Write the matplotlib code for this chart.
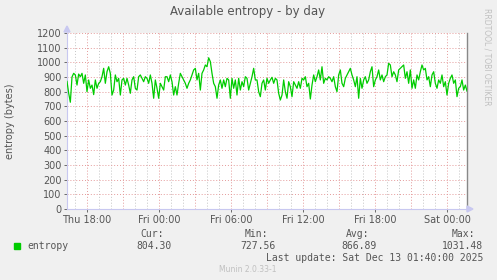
import matplotlib
matplotlib.use("Agg")
import matplotlib.pyplot as plt
import numpy as np

# ---- data (5-sample step ~8.33 min, Thu 16:20 -> Sat 01:40) ----
entropy_part1 = [870, 790, 728, 900, 925, 914, 845, 920, 902, 925, 857, 914, 800, 880, 823,
                 845, 780, 880, 823, 857, 868, 902, 959, 857, 936, 970, 925, 777, 811, 914,
                 868, 891, 777, 880, 891, 845, 891, 845, 789, 880, 902, 823, 811, 902, 914,
                 891, 868, 902, 891, 857, 914, 857, 755, 880, 823, 755, 857, 834, 811, 902,
                 902, 868, 914, 868, 777, 834, 777, 857, 925, 902, 880, 857, 823, 857, 880,
                 914, 948, 959, 880, 925, 811, 925, 948, 982, 970, 1031, 1005, 925, 857, 834,
                 755, 845, 880, 823, 880, 834, 891, 880, 755, 891, 823, 880, 777, 891, 811,
                 868, 834, 902, 891, 811, 857]
entropy_part2 = [902, 959, 880, 880, 800, 766, 857, 880, 811, 891, 857, 880, 898, 857, 891,
                 880, 789, 743, 777, 880, 800, 755, 868, 834, 766, 868, 845, 823, 868, 823,
                 891, 880, 902, 834, 857, 750, 845, 914, 868, 902, 948, 880, 970, 857, 891,
                 880, 902, 891, 868, 902, 834, 800, 914, 948, 857, 834, 891, 914, 936, 959,
                 914, 880, 834, 902, 755, 891, 823, 880, 902, 857, 880, 936, 970, 834, 880,
                 902, 948, 880, 914, 868, 902, 914, 993, 982, 902, 936, 914, 868, 948, 959,
                 970, 982, 891, 936, 857, 948, 823, 880, 823, 914, 880, 936, 982, 948, 959,
                 880, 902, 834, 914, 936, 857, 823, 880, 857, 914, 834, 868, 777, 857, 891,
                 914, 857, 880, 766, 823, 834, 880, 811, 845, 804]
entropy = entropy_part1 + entropy_part2

start_hour = 16 + 20 / 60      # Thu 16:20, hours since Thu 00:00
end_hour = 48 + 100 / 60       # Sat 01:40
tick_hours = [18, 24, 30, 36, 42, 48]
tick_labels = ["Thu 18:00", "Fri 00:00", "Fri 06:00", "Fri 12:00", "Fri 18:00", "Sat 00:00"]
y_ticks = list(range(0, 1300, 100))

stats_names = ["Cur:", "Min:", "Avg:", "Max:"]
stats_values = ["804.30", "727.56", "866.89", "1031.48"]
last_update = "Last update: Sat Dec 13 01:40:00 2025"

hours = np.linspace(start_hour, end_hour, len(entropy))

W, H = 497, 280
fig = plt.figure(figsize=(W / 100, H / 100), dpi=100, facecolor="#F0F0F0")
L, R, T, B = 67, 467, 33, 209
ax = fig.add_axes([L / W, 1 - B / H, (R - L) / W, (B - T) / H])
ax.set_facecolor("white")

ax.plot(hours, entropy, color="#00CC00", lw=0.9, zorder=3)
ax.set_xlim(start_hour, end_hour)
ax.set_ylim(0, 1200)

# grids
for h in np.arange(17, 50, 1):
    col = "#e49a9a" if h % 3 == 0 else "#c4c4c4"
    ax.axvline(h, color=col, lw=0.7, ls=(0, (1, 2)), zorder=1)
for y in y_ticks[1:]:
    ax.axhline(y, color="#e49a9a", lw=0.7, ls=(0, (1, 2)), zorder=1)

ax.set_xticks(tick_hours)
ax.set_xticklabels(tick_labels)
ax.set_yticks(y_ticks)
ax.tick_params(axis="both", labelsize=7, colors="#555555", length=2, width=0.6, pad=2)
for t in ax.get_xticklabels() + ax.get_yticklabels():
    t.set_color("#555555")

ax.spines["top"].set_visible(False)
ax.spines["right"].set_color("#888888")
ax.spines["right"].set_linewidth(1)
ax.spines["left"].set_color("#c8c8f0")
ax.spines["bottom"].set_color("#c8c8f0")

# axis arrows
fig.patches.append(matplotlib.patches.Polygon(
    [[(L - 3) / W, 1 - (T - 1) / H], [(L + 3) / W, 1 - (T - 1) / H], [L / W, 1 - (T - 7) / H]],
    closed=True, transform=fig.transFigure, color="#c8c8f0", zorder=5))
fig.patches.append(matplotlib.patches.Polygon(
    [[(R + 0) / W, 1 - (B - 3) / H], [(R + 0) / W, 1 - (B + 3) / H], [(R + 6) / W, 1 - B / H]],
    closed=True, transform=fig.transFigure, color="#c8c8f0", zorder=5))

fig.text(248 / W, 1 - 12 / H, "Available entropy - by day", ha="center", va="center",
         fontsize=8.5, color="#555555")
fig.text(10 / W, 1 - 121 / H, "entropy (bytes)", rotation=90, ha="center", va="center",
         fontsize=7, color="#555555")
fig.text(487 / W, 1 - 57 / H, "RRDTOOL / TOBI OETIKER", rotation=270, ha="center",
         va="center", fontsize=5.5, color="#c0c0c0")

mono = "DejaVu Sans Mono"
fig.patches.append(matplotlib.patches.Rectangle((14 / W, 1 - 249 / H), 6 / W, 6 / H,
                   transform=fig.transFigure, color="#00CC00"))
fig.text(27 / W, 1 - 246 / H, "entropy", family=mono, fontsize=7, color="#555555",
         ha="left", va="center")
col_right = [172, 276, 377, 483]
for name, val, xr in zip(stats_names, stats_values, col_right):
    fig.text(xr / W, 1 - 246 / H, val, family=mono, fontsize=7, color="#555555",
             ha="right", va="center")
    fig.text((xr - 8) / W, 1 - 234 / H, name, family=mono, fontsize=7, color="#555555",
             ha="right", va="center")
fig.text(483 / W, 1 - 258 / H, last_update, family=mono, fontsize=7, color="#555555",
         ha="right", va="center")
fig.text(248 / W, 1 - 269 / H, "Munin 2.0.33-1", fontsize=5.5, color="#c0c0c0",
         ha="center", va="center")

fig.savefig("out.png", dpi=100, facecolor=fig.get_facecolor())
